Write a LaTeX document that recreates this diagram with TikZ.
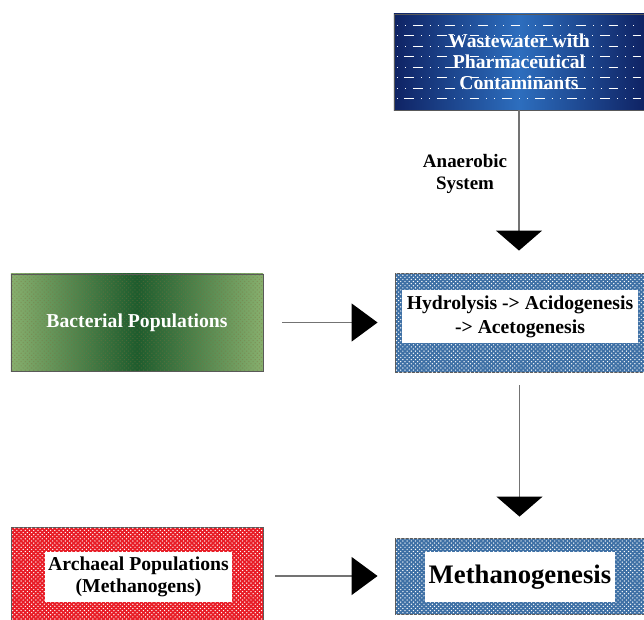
\documentclass[tikz,border=0pt]{standalone}
\usepackage{fontspec}
\setmainfont{Liberation Serif}
\usetikzlibrary{arrows.meta, patterns}

\definecolor{marine}{RGB}{15,35,100}
\definecolor{wasserblau}{RGB}{45,110,190}
\definecolor{hellgruen}{RGB}{135,175,110}
\definecolor{dunkelgruen}{RGB}{30,92,45}
\definecolor{olivbraun}{RGB}{125,112,60}
\definecolor{sprenkelblau}{RGB}{62,112,165}
\definecolor{sprenkelrot}{RGB}{232,28,38}

\begin{document}
\begin{tikzpicture}[x=0.025cm, y=-0.025cm, font=\bfseries\fontsize{14}{16}\selectfont]
    \tikzset{
        rahmen/.style={draw=black!65, line width=0.6pt, inner sep=0pt},
        wasserbox/.style={rahmen, left color=marine, right color=marine, middle color=wasserblau},
        gruenbox/.style={rahmen, left color=hellgruen, right color=hellgruen, middle color=dunkelgruen,
            postaction={pattern=crosshatch dots, pattern color=olivbraun, opacity=0.4}},
        blausprenkel/.style={rahmen, fill=sprenkelblau, postaction={pattern=crosshatch dots, pattern color=white}},
        rotsprenkel/.style={rahmen, fill=sprenkelrot, postaction={pattern=crosshatch dots, pattern color=white}},
        weissfeld/.style={fill=white, inner sep=0pt, align=center},
        strichel/.style={white, line width=0.6pt, dash pattern={on 0.6pt off 5pt on 0.6pt off 5pt on 7pt off 5pt}},
        pfeil/.style={draw=black!55, line width=0.9pt},
        spitze_senkrecht/.style={pfeil, -{Triangle[length=0.5cm, width=1.15cm, color=black]}},
        spitze_waagrecht/.style={pfeil, -{Triangle[length=0.65cm, width=0.95cm, color=black]}}
    }
    \useasboundingbox (0,0) rectangle (644,619);

    % --- Abwasser ---
    \node[wasserbox, minimum width=6.25cm, minimum height=2.4cm] (abwasser) at (519,62) {};
    \foreach \k in {0,...,7} {
        \pgfmathsetmacro{\phase}{mod(\k,2)*6}
        \draw[strichel, dash phase=\phase pt] (397,{25+10.5*\k}) -- (641,{25+10.5*\k});
    }
    \node[text=white, align=center, font=\bfseries\fontsize{14}{15}\selectfont] (abwassertext) at (abwasser) {Wastewater with\\Pharmaceutical\\Contaminants};

    % --- Hydrolyse ---
    \node[blausprenkel, minimum width=6.225cm, minimum height=2.475cm] (hydrolyse) at (519.5,322.5) {};
    \node[weissfeld, minimum width=5.9cm, minimum height=1.325cm, font=\bfseries\fontsize{14}{17}\selectfont] (hydrolysetext) at (520,316.5) {Hydrolysis -> Acidogenesis\\-> Acetogenesis};

    % --- Methanogenese ---
    \node[blausprenkel, minimum width=6.225cm, minimum height=1.9cm] (methan) at (519.5,576) {};
    \node[weissfeld, minimum width=4.75cm, minimum height=1.25cm, font=\bfseries\fontsize{19}{22}\selectfont] (methantext) at (520,577) {Methanogenesis};

    % --- Populationen ---
    \node[gruenbox, minimum width=6.3cm, minimum height=2.425cm] (bakterien) at (137,322.5) {};
    \node[text=white] (bakterientext) at (bakterien) {Bacterial Populations};

    \node[rotsprenkel, minimum width=6.3cm, minimum height=2.45cm] (archaeen) at (137,576) {};
    \node[weissfeld, minimum width=4.675cm, minimum height=1.25cm, font=\bfseries\fontsize{14}{16}\selectfont] (archaeentext) at (138.5,577) {Archaeal Populations\\(Methanogens)};

    % --- Pfeile ---
    \draw[spitze_senkrecht, shorten >=0.55cm] (abwasser.south) -- (abwasser.south |- hydrolyse.north);
    \node[align=center, font=\bfseries\fontsize{13.5}{15.5}\selectfont] (anaerob) at (465,174) {Anaerobic\\System};
    \draw[spitze_senkrecht, shorten <=0.325cm, shorten >=0.525cm] (hydrolyse.south) -- (methan.north);
    \draw[spitze_waagrecht, shorten <=0.475cm, shorten >=0.425cm] (bakterien.east) -- (hydrolyse.west |- bakterien.east);
    \draw[spitze_waagrecht, shorten <=0.3cm, shorten >=0.425cm] (archaeen.east) -- (methan.west);

\end{tikzpicture}
\end{document}
